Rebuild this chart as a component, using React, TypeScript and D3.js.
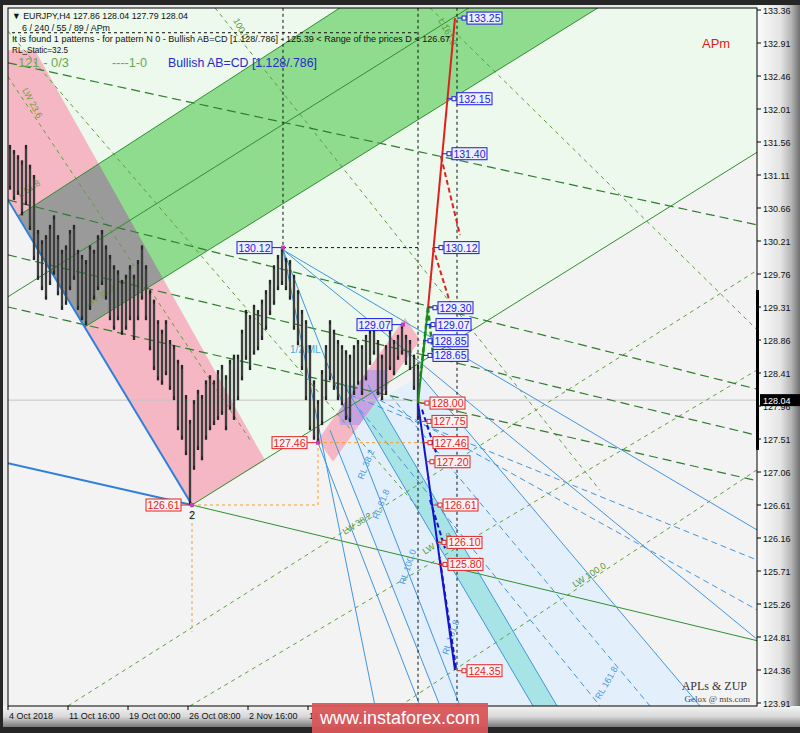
import React from 'react';
import * as d3 from 'd3';

// ---------- DATA ----------
const HIGH = [131.52,131.45,131.38,131.31,131.52,131.25,131.11,130.36,130.22,130.29,
130.43,130.56,130.29,130.09,130.15,130.36,130.43,130.09,130.02,129.95,
130.15,130.09,130.29,130.36,130.15,130.02,129.88,129.81,129.68,129.75,
129.88,129.75,129.95,130.15,129.88,129.54,129.41,129.13,129.00,129.13,
128.86,128.79,128.59,128.52,128.11,127.77,128.04,128.18,128.11,128.31,
128.38,128.31,128.45,128.52,128.38,128.59,128.66,128.66,129.00,129.27,
129.20,129.34,129.27,129.41,129.54,129.68,129.88,130.02,130.12,129.98,
129.95,129.75,129.54,129.27,129.13,128.79,128.31,128.04,128.45,128.79,
129.13,129.00,128.86,128.79,128.72,128.66,128.79,128.86,128.79,128.93,
129.00,129.02,128.86,128.66,128.79,129.00,128.86,128.93,129.07,128.93,
128.86,128.66,128.52];
const LOW = [130.91,130.77,130.84,130.56,130.70,130.36,129.95,129.68,129.54,129.41,
129.61,129.75,129.47,129.27,129.34,129.54,129.68,129.27,129.13,129.06,
129.27,129.41,129.54,129.61,129.41,129.13,129.00,129.13,128.93,129.00,
129.13,128.86,129.13,129.41,129.13,128.72,128.45,128.31,128.25,128.38,
128.18,128.04,127.63,127.50,127.29,126.61,127.09,127.36,127.22,127.50,
127.63,127.70,127.77,127.84,127.63,127.91,127.77,128.04,128.31,128.59,
128.45,128.66,128.72,128.86,129.00,129.20,129.34,129.54,129.61,129.54,
129.41,129.00,128.79,128.45,128.04,127.63,127.50,127.46,127.70,128.04,
128.31,128.18,128.04,127.97,127.77,127.74,128.11,128.25,128.11,128.31,
128.52,128.66,128.11,128.04,128.11,128.45,128.38,128.59,128.66,128.52,
128.45,128.18,127.77];

const PRICE_TICKS = [133.36,132.91,132.46,132.01,131.56,131.11,130.66,130.21,129.76,129.31,128.86,128.41,127.96,127.51,127.06,126.61,126.16,125.71,125.26,124.81,124.36,123.91];
const TIME_LABELS = ['4 Oct 2018','11 Oct 16:00','19 Oct 00:00','26 Oct 08:00','2 Nov 16:00','12 Nov 00:00'];
const TIME_BARS = [-0.5,14.5,29.5,44.5,59.5,74.5];
const LAST_PRICE = 128.04;

// polygons in [bar, price]
const LIGHT_GREEN = [[-0.5,133.39],[186.75,133.39],[186.75,131.42],[45.5,126.61],[-0.5,130.77]];
const PINK = [[-0.5,132.81],[6.25,132.81],[63.75,127.22],[45.5,126.61],[-0.5,130.77]];
const GREEN_BAND = [[2,130.55],[82.5,133.39],[147,133.39],[18.75,129.04]];
const SMALL_PINK = [[77,127.50],[98.75,129.16],[102.5,128.86],[80.75,127.20]];
const LIGHT_BLUE = [[80,127.63],[102.5,128.38],[172.5,123.87],[107.5,123.87]];
const CYAN = [[83.5,128.25],[89.5,128.25],[136.75,123.87],[130.75,123.87]];
const PURPLE = [[81.25,128.45],[93.75,128.45],[95,127.70],[82.5,127.70]];

// line segments [bar1, price1, bar2, price2]
const GREEN_SOLID = [[45.5,126.61,186.75,131.42],[18.75,129.04,147,133.39],[2,130.55,82.5,133.39],[-0.5,129.45,114.75,133.39],[45.5,126.61,186.75,124.76]];
const GREEN_LONG_DASH = [[-0.5,132.64,186.75,130.43],[-0.5,130.77,186.75,128.19],[-0.5,130.02,186.75,127.56],[-0.5,129.31,186.75,126.94]];
const GREEN_SHORT_DASH = [[-0.5,132.45,60,127.50],[-0.5,133.07,102.5,126.54],[51.25,133.39,147.5,126.81],[105,133.39,186.75,129.00],[14.5,123.87,186.75,129.81],[45,123.87,186.75,128.45],[97.5,123.87,186.75,127.09]];
const BLUE_THICK = [[-0.5,130.77,45.5,126.61],[-0.5,127.18,45.5,126.61]];
const BLUE_SOLID = [[68.25,130.09,186.75,126.27],[68.25,130.09,186.75,124.78],[68.25,130.09,91.25,123.87],[68.25,130.09,112.5,123.87],[77,127.46,102.5,123.87],[80,127.63,107.5,123.87],[102.5,128.38,172.5,123.87],[83.5,128.25,130.75,123.87],[89.5,128.25,136.75,123.87]];
const BLUE_DASH = [[85,128.11,186.75,125.86],[92.5,128.04,186.75,125.18],[87.5,127.91,147.5,123.87],[95,128.11,160,123.87]];
const BLACK_DOT = [[102,133.39,102,123.87],[111.75,133.39,111.75,123.87],[68.25,133.39,68.25,130.09],[68.25,130.12,102,130.12],[0.5,133.05,102.5,133.05]];
const ORANGE_DOT = [[45.5,126.61,77,126.61],[77,126.61,77,127.46],[77,127.46,105,127.46],[45.5,126.61,45.5,124.88]];

// ZUP pattern
const ZUP_RED = [[104.5,129.30,111.25,133.25]];
const ZUP_RED_DASH = [[107.75,131.36,112.5,130.29],[105.75,130.12,110.75,129.24]];
const ZUP_GREEN = [[102,128.00,104.5,129.30]];
const ZUP_GREEN_DASH = [[104.5,129.30,105.75,128.66],[104.5,129.30,102.5,128.31]];
const ZUP_BLUE = [[102,128.00,111.25,124.36]];
const ZUP_BLUE_DASH = [[103,127.91,107.5,127.16],[105,126.68,108.75,126.02],[107.5,125.86,111.5,124.39]];

const ZUP_LEVELS = [133.25,132.15,131.40,130.12,129.30,129.07,128.85,128.65,128.00,127.75,127.46,127.20,126.61,126.10,125.80,124.35];
const ZUP_BOX_BAR = [114.25,111.75,110.5,108.5,107,106.5,105.75,105.75,105,105.5,105.75,106.25,108.25,109.25,109.5,114.25];
const ZUP_UP = [1,1,1,1,1,1,1,1,0,0,0,0,0,0,0,0];

const PIVOT_PRICES = [130.12,129.07,127.46,126.61];
const PIVOT_BARS = [68.25,98.25,77,45.5];
const PIVOT_UP = [1,1,0,0];

const NOTES = [
  ['L 61.8',2.5,130.80,-32,'#7a9a3a'],
  ['LW 38.2',19.5,129.31,-32,'#7a9a3a'],
  ['LW 23.6',3,132.27,62,'#7a9a3a'],
  ['100.0',55.75,133.22,62,'#5a9a3a'],
  ['L 161.8',107,133.22,62,'#5a9a3a'],
  ['LW 100.0',141.25,125.48,-33,'#5a9a3a'],
  ['LW 61.8',103.75,125.93,-33,'#5a9a3a'],
  ['LW 38.2',83.75,126.20,-33,'#5a9a3a'],
  ['RL 38.2',88.25,126.95,-68,'#4a9ae0'],
  ['RL 61.8',92,126.41,-68,'#4a9ae0'],
  ['RL 100.0',98.75,125.52,-72,'#4a9ae0'],
  ['RL 161.8',109.5,124.56,-72,'#4a9ae0'],
  ['RL 161.8',147.5,123.95,-60,'#4a9ae0'],
];

// ---------- SCALES ----------
const x = d3.scaleLinear().domain([-0.5, 186.75]).range([8, 757]);
const y = d3.scaleLinear().domain([123.91, 133.36]).range([703, 10]);

const FONT = 'Liberation Sans, Arial, sans-serif';

function polyPath(pts: number[][]) {
  return d3.line<number[]>().x(d => x(d[0])).y(d => y(d[1]))(pts) + 'Z';
}

function Segs({ data, stroke, width = 1, dash }: { data: number[][]; stroke: string; width?: number; dash?: string }) {
  return (
    <g>
      {data.map((s, i) => (
        <line key={i} x1={x(s[0])} y1={y(s[1])} x2={x(s[2])} y2={y(s[3])} stroke={stroke} strokeWidth={width} strokeDasharray={dash} />
      ))}
    </g>
  );
}

function Box({ bx, py, text, up }: { bx: number; py: number; text: string; up: boolean }) {
  const c = up ? '#1c1ce0' : '#e02424';
  const f = up ? '#eef0ff' : '#fff2f2';
  return (
    <g>
      <line x1={bx - 10} y1={py} x2={bx - 2} y2={py} stroke={c} strokeWidth={1} />
      <rect x={bx - 5} y={py - 2} width={4} height={4} fill="#fff" stroke={c} strokeWidth={1} />
      <rect x={bx} y={py - 6} width={35} height={12} fill={f} stroke={c} strokeWidth={1} />
      <text x={bx + 17.5} y={py + 4} textAnchor="middle" fontSize={10.5} fill={c} fontFamily={FONT}>{text}</text>
    </g>
  );
}

export default function App() {
  const candles = HIGH.map((h, i) => ({ i, h, l: LOW[i] }));
  return (
    <svg width={800} height={733} style={{ position: 'fixed', left: 0, top: 0 }} xmlns="http://www.w3.org/2000/svg">
      <defs>
        <clipPath id="plot"><rect x={8} y={8} width={749} height={698} /></clipPath>
        <clipPath id="pinkClip"><path d={polyPath(PINK)} /></clipPath>
        <clipPath id="smallPinkClip"><path d={polyPath(SMALL_PINK)} /></clipPath>
        <linearGradient id="rg" x1="0" x2="1" y1="0" y2="0">
          <stop offset="0" stopColor="#fbfbfb" />
          <stop offset="0.55" stopColor="#e4e4e4" />
          <stop offset="0.8" stopColor="#b4b4b4" />
          <stop offset="1" stopColor="#6e6e6e" />
        </linearGradient>
        <linearGradient id="bg" x1="0" x2="0" y1="0" y2="1">
          <stop offset="0" stopColor="#f4f4f4" />
          <stop offset="0.5" stopColor="#d8d8d8" />
          <stop offset="1" stopColor="#7a7a7a" />
        </linearGradient>
      </defs>
      <rect x={0} y={0} width={800} height={733} fill="#262626" />
      <rect x={3} y={5} width={797} height={722} fill="#e8e8e8" />
      <rect x={757} y={5} width={43} height={722} fill="url(#rg)" />
      <rect x={3} y={706} width={797} height={21} fill="url(#bg)" />

      <g clipPath="url(#plot)">
        <rect x={8} y={8} width={749} height={698} fill="#f3f3f3" />
        <path d={polyPath(LIGHT_GREEN)} fill="#ecf9ec" />
        <path d={polyPath(LIGHT_BLUE)} fill="#e3effb" />
        <path d={polyPath(CYAN)} fill="#a8e4e6" />
        <path d={polyPath(PINK)} fill="#f5b7c3" />
        <path d={polyPath(GREEN_BAND)} fill="#8fdc8f" />
        <path d={polyPath(GREEN_BAND)} fill="#9a9a9a" clipPath="url(#pinkClip)" />
        <path d={polyPath(SMALL_PINK)} fill="#f5b7c3" />
        <path d={polyPath(PURPLE)} fill="#c6a3e0" clipPath="url(#smallPinkClip)" />

        <line x1={8} x2={757} y1={y(LAST_PRICE)} y2={y(LAST_PRICE)} stroke="#c4c4c4" strokeWidth={1} />

        <Segs data={GREEN_SHORT_DASH} stroke="#5f9f3c" width={1} dash="4,4" />
        <Segs data={GREEN_LONG_DASH} stroke="#2f7d2f" width={1.2} dash="9,5" />
        <Segs data={GREEN_SOLID} stroke="#2f8f2f" width={1} />
        <Segs data={BLUE_SOLID} stroke="#3f95e0" width={1} />
        <Segs data={BLUE_DASH} stroke="#3f95e0" width={1} dash="6,4" />
        <Segs data={BLUE_THICK} stroke="#2f80dc" width={2} />
        <Segs data={ORANGE_DOT} stroke="#f0a030" width={1} dash="3,3" />
        <Segs data={BLACK_DOT} stroke="#111" width={1} dash="3,3" />

        {NOTES.map((n, i) => (
          <text key={i} x={x(n[1] as number)} y={y(n[2] as number)} fontSize={9} fill={n[4] as string} fontFamily={FONT}
            transform={`rotate(${n[3]},${x(n[1] as number)},${y(n[2] as number)})`}>{n[0]}</text>
        ))}
        <text x={x(70)} y={y(128.68)} fontSize={10} fill="#5aa2e6" fontFamily={FONT}>1/2 ML</text>

        {candles.map(c => (
          <g key={c.i}>
            <line x1={x(c.i)} x2={x(c.i)} y1={y(c.h)} y2={y(c.l)} stroke="#262626" strokeWidth={2.3} />
            <line x1={x(c.i)} x2={x(c.i)} y1={y(c.h) + 4} y2={y(c.l) - 4} stroke="#6e6e6e" strokeWidth={0.7} />
          </g>
        ))}

        <Segs data={ZUP_RED_DASH} stroke="#e02020" width={2} dash="5,3" />
        <Segs data={ZUP_RED} stroke="#e02020" width={2} />
        <Segs data={ZUP_GREEN_DASH} stroke="#1a8a1a" width={2.5} dash="5,3" />
        <Segs data={ZUP_GREEN} stroke="#1a8a1a" width={2} />
        <Segs data={ZUP_BLUE_DASH} stroke="#1414d0" width={2} dash="5,3" />
        <Segs data={ZUP_BLUE} stroke="#1414d0" width={2} />

        {ZUP_LEVELS.map((v, i) => (
          <Box key={i} bx={x(ZUP_BOX_BAR[i])} py={y(v)} text={v.toFixed(2)} up={!!ZUP_UP[i]} />
        ))}
        {PIVOT_PRICES.map((v, i) => {
          const up = !!PIVOT_UP[i];
          const c = up ? '#1c1ce0' : '#e02424';
          const px = x(PIVOT_BARS[i]);
          const py = y(v);
          return (
            <g key={i}>
              <line x1={px - 12} x2={px} y1={py} y2={py} stroke={c} />
              <rect x={px - 2} y={py - 2} width={4} height={4} fill="#c040c0" />
              <rect x={px - 46} y={py - 6} width={35} height={12} fill={up ? '#eef0ff' : '#fff2f2'} stroke={c} />
              <text x={px - 28.5} y={py + 4} textAnchor="middle" fontSize={10.5} fill={c} fontFamily={FONT}>{v.toFixed(2)}</text>
            </g>
          );
        })}
        <text x={x(45.5)} y={y(126.61) + 14} textAnchor="middle" fontSize={11} fill="#111" fontFamily={FONT}>2</text>

        {/* header */}
        <text x={12} y={19} fontSize={9} fill="#111" fontFamily={FONT} textLength={176} lengthAdjust="spacingAndGlyphs">▼ EURJPY,H4  127.86 128.04 127.79 128.04</text>
        <text x={22} y={31} fontSize={9} fill="#111" fontFamily={FONT} textLength={88} lengthAdjust="spacingAndGlyphs">6 / 240 / 55 / 89 / APm</text>
        <text x={12} y={42} fontSize={9} fill="#111" fontFamily={FONT} textLength={438} lengthAdjust="spacingAndGlyphs">It is found 1 patterns  -  for pattern N 0 - Bullish AB=CD [1.128/.786] - 125.39 &lt; Range of the prices D &lt; 126.67</text>
        <text x={12} y={53} fontSize={9} fill="#111" fontFamily={FONT} textLength={56} lengthAdjust="spacingAndGlyphs">RL_Static=32.5</text>
        <text x={18} y={67} fontSize={13} fill="#6aa84f" fontFamily={FONT} textLength={51} lengthAdjust="spacingAndGlyphs">121 - 0/3</text>
        <text x={112} y={67} fontSize={13} fill="#6aa84f" fontFamily={FONT} textLength={35} lengthAdjust="spacingAndGlyphs">----1-0</text>
        <text x={168} y={67} fontSize={13} fill="#2828cc" fontFamily={FONT} textLength={149} lengthAdjust="spacingAndGlyphs">Bullish AB=CD [1.128/.786]</text>
        <text x={702} y={48} fontSize={13} fill="#e02020" fontFamily={FONT}>APm</text>
        <text x={747} y={690} textAnchor="end" fontSize={12} fill="#333" fontFamily="Liberation Serif, serif">APLs &amp; ZUP</text>
        <text x={750} y={702} textAnchor="end" fontSize={9} fill="#444" fontFamily="Liberation Serif, serif">Gelox @ mts.com</text>
      </g>
      <rect x={8} y={8} width={749} height={698} fill="none" stroke="#000" strokeWidth={1} />
      <rect x={756} y={290} width={3} height={160} fill="#000" />

      {/* right axis */}
      {PRICE_TICKS.map((v, i) => (
        <g key={i}>
          <line x1={757} x2={761} y1={y(v)} y2={y(v)} stroke="#000" />
          <text x={763} y={y(v) + 3.5} fontSize={9} fill="#111" fontFamily={FONT}>{v.toFixed(2)}</text>
        </g>
      ))}
      <rect x={760} y={y(LAST_PRICE) - 6} width={40} height={12} fill="#000" />
      <text x={763} y={y(LAST_PRICE) + 3.5} fontSize={9} fill="#fff" fontFamily={FONT}>{LAST_PRICE.toFixed(2)}</text>

      {/* bottom axis */}
      {TIME_LABELS.map((t, i) => (
        <g key={i}>
          <line x1={x(TIME_BARS[i])} x2={x(TIME_BARS[i])} y1={706} y2={710} stroke="#000" />
          <text x={x(TIME_BARS[i]) + 1} y={719} fontSize={9} fill="#111" fontFamily={FONT}>{t}</text>
        </g>
      ))}

      {/* watermark */}
      <rect x={312} y={703} width={176} height={30} fill="#d95558" opacity={0.95} />
      <text x={400} y={724} textAnchor="middle" fontSize={18} fill="#fff" fontFamily={FONT}>www.instaforex.com</text>
    </svg>
  );
}
